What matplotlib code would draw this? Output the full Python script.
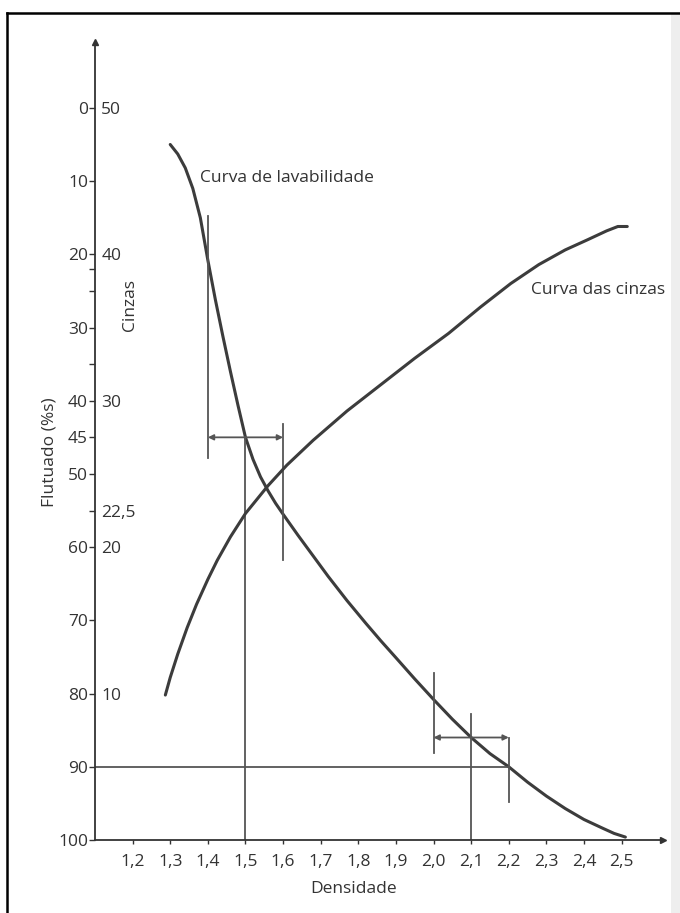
import matplotlib.pyplot as plt
from matplotlib.lines import Line2D
from matplotlib.patches import Rectangle

plt.rcParams['font.family'] = ['Open Sans', 'DejaVu Sans']

# Curva de lavabilidade: densidade x flutuado (%)
lav_dens = [1.30, 1.32, 1.34, 1.36, 1.38, 1.40, 1.42, 1.44, 1.46, 1.48, 1.50,
            1.52, 1.54, 1.56, 1.58, 1.60, 1.64, 1.68, 1.72, 1.77, 1.82, 1.86,
            1.90, 1.95, 2.00, 2.05, 2.10, 2.15, 2.20, 2.25, 2.30, 2.35, 2.40,
            2.45, 2.48, 2.51]
lav_float = [5.0, 6.3, 8.2, 11.0, 15.0, 20.8, 26.2, 31.2, 36.0, 40.6, 45.0,
             48.0, 50.4, 52.3, 54.0, 55.5, 58.4, 61.2, 64.0, 67.3, 70.4, 72.8,
             75.1, 78.0, 80.8, 83.5, 86.0, 88.2, 90.0, 92.1, 94.0, 95.7, 97.2,
             98.4, 99.1, 99.6]

# Curva das cinzas: densidade x cinzas (%)
ash_dens = [1.287, 1.30, 1.32, 1.345, 1.37, 1.40, 1.425, 1.46, 1.50, 1.56,
            1.61, 1.68, 1.725, 1.77, 1.86, 1.95, 2.04, 2.125, 2.205, 2.28,
            2.35, 2.41, 2.46, 2.49, 2.515]
ash_cinzas = [9.9, 11.1, 12.7, 14.5, 16.1, 17.8, 19.1, 20.7, 22.3, 24.2,
              25.6, 27.3, 28.3, 29.3, 31.1, 32.9, 34.6, 36.4, 38.0, 39.3,
              40.3, 41.0, 41.6, 41.9, 41.9]

# eixos
x_ticks = [1.2, 1.3, 1.4, 1.5, 1.6, 1.7, 1.8, 1.9, 2.0, 2.1, 2.2, 2.3, 2.4, 2.5]
float_ticks = [0, 10, 20, 30, 40, 45, 50, 55, 60, 70, 80, 90, 100]
float_labels = ['0', '10', '20', '30', '40', '45', '50', '', '60', '70', '80', '90', '100']
float_minor = [22, 25, 35]
ash_ticks = [50, 40, 30, 22.5, 20, 10]
ash_labels = ['50', '40', '30', '22,5', '20', '10']

# faixa de corte superior: 1,4 - 1,6 em torno de 1,5 (45 % flutuado)
upper_lo, upper_mid, upper_hi = 1.4, 1.5, 1.6
upper_level = 45
upper_lo_span = (14.8, 47.8)
upper_hi_span = (43.2, 61.7)

# faixa de corte inferior: 2,0 - 2,2 em torno de 2,1
lower_lo, lower_mid, lower_hi = 2.0, 2.1, 2.2
lower_level = 86
lower_lo_span = (77.2, 88.1)
lower_mid_top = 82.8
lower_hi_span = (86.1, 94.8)
recovery_level = 90

x_min, x_max = 1.1, 2.61
y_top, y_bottom = -9, 100

ink = '#333333'
curve_col = '#3c3c3c'
ref_col = '#555555'

fig = plt.figure(figsize=(6.8, 9.13), dpi=100)
ax = fig.add_axes([95 / 680, 1 - 840 / 913, 568 / 680, 798 / 913])
ax.set_xlim(x_min, x_max)
ax.set_ylim(y_bottom, y_top)

ax2 = ax.twinx()
ax2.set_ylim(50 - y_bottom / 2, 50 - y_top / 2)

# curvas
ax.plot(lav_dens, lav_float, color=curve_col, lw=2.2, solid_capstyle='round',
        solid_joinstyle='round')
ax2.plot(ash_dens, ash_cinzas, color=curve_col, lw=2.2, solid_capstyle='round',
         solid_joinstyle='round')

# linhas de leitura
ref_kw = dict(color=ref_col, lw=1.3)
ax.plot([upper_lo, upper_lo], upper_lo_span, **ref_kw)
ax.plot([upper_hi, upper_hi], upper_hi_span, **ref_kw)
ax.plot([upper_mid, upper_mid], [upper_level, y_bottom], **ref_kw)
ax.plot([lower_lo, lower_lo], lower_lo_span, **ref_kw)
ax.plot([lower_mid, lower_mid], [lower_mid_top, y_bottom], **ref_kw)
ax.plot([lower_hi, lower_hi], lower_hi_span, **ref_kw)
ax.plot([x_min, lower_hi], [recovery_level, recovery_level], **ref_kw)

arrow_kw = dict(arrowstyle='<|-|>', color=ref_col, lw=1.3, mutation_scale=8,
                shrinkA=0, shrinkB=0)
ax.annotate('', xy=(upper_hi, upper_level), xytext=(upper_lo, upper_level),
            arrowprops=arrow_kw)
ax.annotate('', xy=(lower_hi, lower_level), xytext=(lower_lo, lower_level),
            arrowprops=arrow_kw)

# textos das curvas
ax.text(1.38, 9.6, 'Curva de lavabilidade', fontsize=12.5, color=ink, va='center')
ax.text(2.258, 24.9, 'Curva das cinzas', fontsize=12.5, color=ink, va='center')

# eixo x
ax.spines['top'].set_visible(False)
ax.spines['right'].set_visible(False)
for s in ax2.spines.values():
    s.set_visible(False)
ax.spines['left'].set_color(ink)
ax.spines['bottom'].set_color(ink)
ax.spines['left'].set_linewidth(1.3)
ax.spines['bottom'].set_linewidth(1.3)
ax.plot(0, 1, marker='^', ms=5, color=ink, transform=ax.transAxes, clip_on=False)
ax.plot(1, 0, marker='>', ms=5, color=ink, transform=ax.transAxes, clip_on=False)

ax.set_xticks(x_ticks)
ax.set_xticklabels([f'{v:.1f}'.replace('.', ',') for v in x_ticks])
ax.tick_params(axis='x', direction='out', length=3, width=1, colors=ink,
               labelsize=12.5, pad=7)
ax.set_xlabel('Densidade', fontsize=12.5, color=ink)
ax.xaxis.set_label_coords(0.456, -0.052)

# eixo do flutuado (esquerda)
ax.set_yticks(float_ticks)
ax.set_yticklabels(float_labels)
ax.set_yticks(float_minor, minor=True)
ax.tick_params(axis='y', which='major', direction='out', length=4, width=1,
               colors=ink, labelsize=12.5, pad=1)
ax.tick_params(axis='y', which='minor', direction='out', length=4, width=1,
               colors=ink)
ax.set_ylabel('Flutuado (%s)', fontsize=12.5, color=ink)
ax.yaxis.set_label_coords(-0.066, 0.486)

# escala das cinzas, escrita à direita da mesma linha de eixo
ax2.yaxis.set_ticks_position('left')
ax2.set_yticks(ash_ticks)
ax2.set_yticklabels(ash_labels)
ax2.tick_params(axis='y', length=0, pad=-4.5, colors=ink, labelsize=12.5)
for lab in ax2.get_yticklabels():
    lab.set_horizontalalignment('left')
ax.text(0.062, 0.67, 'Cinzas', transform=ax.transAxes, rotation=90,
        fontsize=12.5, color=ink, ha='center', va='center')

# moldura da página
fig.add_artist(Line2D([7 / 680, 1], [1 - 13 / 913, 1 - 13 / 913], color='black', lw=1.8))
fig.add_artist(Line2D([7 / 680, 7 / 680], [0, 1 - 13 / 913], color='black', lw=1.8))
fig.add_artist(Rectangle((671 / 680, 0), 9 / 680, 1 - 14 / 913,
                         transform=fig.transFigure, color='#eeeeee', lw=0, zorder=-1))

fig.savefig('out.png', dpi=100)
